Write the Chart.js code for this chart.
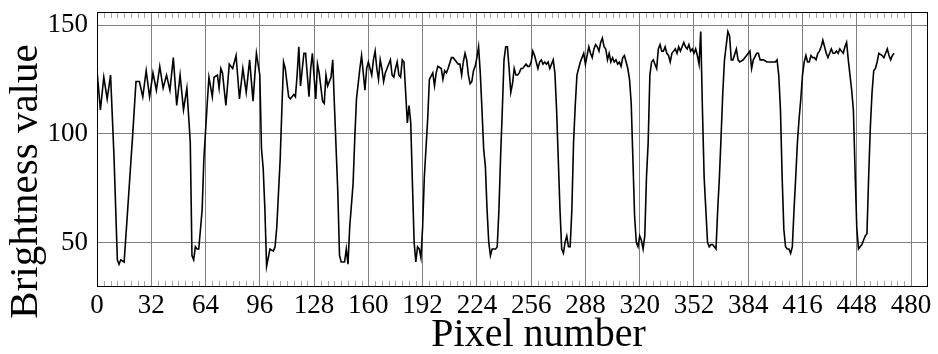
<!DOCTYPE html>
<html>
<head>
<meta charset="utf-8">
<script src="https://cdn.jsdelivr.net/npm/chart.js@4"></script>
<style>
html,body{margin:0;padding:0;background:#fff;}
canvas{display:block;}
</style>
</head>
<body>
<canvas id="c" width="938" height="354"></canvas>
<script>
const pixelNumbers = [0,2,4,6,8,10,12,13,14,16,18,21,23,25,27,29,31,33,35,37,39,41,43,45,47,49,51,53,55,56,57,58,59,60,62,63,65,66,68,69,71,72,73,74,76,78,80,82,84,86,88,90,92,94,96,97,98,99,100,102,104,105,106,108,109,110,111,113,114,116,117,118,119,120,122,123,125,126,127,129,130,131,133,134,135,136,138,139,140,142,143,144,146,147,148,149,151,152,153,155,156,157,158,159,160,161,162,163,164,165,166,167,168,169,170,171,172,173,174,175,176,177,178,179,180,181,182,183,184,185,186,187,188,189,190,191,192,193,195,196,198,199,200,201,203,204,205,206,207,209,210,212,213,214,215,216,217,218,219,220,221,222,223,224,225,226,227,228,229,230,231,232,233,234,235,236,237,238,239,240,241,242,243,244,245,246,247,248,249,250,251,252,253,254,255,256,257,258,259,260,261,262,263,264,265,266,267,268,269,270,271,272,273,274,275,276,277,278,279,280,281,282,283,284,285,286,287,288,289,290,291,292,293,294,295,296,297,298,299,300,301,302,303,304,305,306,307,308,309,310,311,312,313,314,315,316,317,318,319,320,321,322,323,324,325,326,327,328,329,330,331,332,333,334,335,336,337,338,339,340,341,342,343,344,345,346,347,348,349,350,351,352,353,354,355,356,357,358,359,360,361,362,363,364,365,366,367,368,369,370,372,373,374,375,377,378,379,381,382,384,385,386,387,389,390,391,393,395,396,398,400,401,402,403,404,405,406,407,408,409,410,411,412,413,414,415,416,417,418,419,420,421,422,423,424,425,426,427,428,429,430,431,432,433,434,435,436,437,438,439,440,441,442,443,444,445,446,447,448,449,451,452,453,454,455,456,457,458,459,460,461,463,464,465,466,467,468,469,470];
const brightness = [129,111,126,116,127,90,42,40,42,41,64,99,124,124,117,129,117,128,120,131,121,127,120,135,113,127,111,121,96,44,42,48,47,47,65,88,114,126,117,126,127,121,130,128,113,132,130,136,116,130,119,134,115,137,127,93,84,65,39,47,46,48,57,88,111,133,130,117,116,118,117,127,140,122,137,137,117,130,137,116,132,128,115,114,127,122,126,134,113,73,44,41,41,47,40,57,77,98,116,130,136,128,120,130,133,130,127,134,138,130,125,134,130,124,128,130,132,134,127,126,130,133,127,126,134,133,119,105,113,105,77,50,41,48,47,43,57,80,107,125,128,122,128,131,130,125,129,128,130,135,135,133,132,132,127,133,137,134,127,123,124,129,131,135,140,128,111,93,85,65,50,44,47,47,47,48,65,90,111,134,140,140,130,119,123,130,127,127,128,130,130,131,132,131,131,133,138,136,133,130,133,134,132,133,132,133,130,132,134,128,111,88,65,47,45,50,53,48,48,65,96,113,127,130,133,135,137,132,136,140,137,135,139,141,140,138,142,144,140,139,134,137,133,135,133,134,132,133,131,135,136,133,130,125,114,88,62,50,48,53,51,47,53,80,96,127,133,134,132,130,139,141,138,138,140,137,136,133,137,138,139,137,140,138,140,142,140,139,141,138,139,137,139,136,132,147,111,80,65,50,48,49,49,48,47,65,80,99,119,134,147,145,134,134,139,134,133,134,135,137,138,130,134,137,137,134,134,133,133,133,133,134,127,111,80,56,48,47,47,45,48,65,80,96,107,116,127,133,136,133,133,136,135,135,134,137,138,140,143,140,137,135,137,139,137,137,138,137,139,138,137,140,142,134,127,120,111,83,57,47,49,51,53,54,80,103,119,129,130,133,137,136,135,137,139,136,134,136,137];
const xTickValues = [0,32,64,96,128,160,192,224,256,288,320,352,384,416,448,480];
const yTickValues = [50,100,150];
const xMinorTickValues = [];
for (let v = 4; v < 480; v += 4) { if (v % 32 !== 0) xMinorTickValues.push(v); }
const xTitle = 'Pixel number';
const yTitle = 'Brightness value';

const FONT = "'Liberation Serif', 'Times New Roman', serif";

const framePlugin = {
  id: 'frame',
  beforeDatasetsDraw(chart) {
    const {ctx, chartArea: {left, right, top, bottom}, scales: {x}} = chart;
    ctx.save();
    ctx.strokeStyle = '#a6a6a6';
    ctx.lineWidth = 1;
    ctx.beginPath();
    xMinorTickValues.forEach(v => {
      const px = Math.round(x.getPixelForValue(v)) + 0.5;
      ctx.moveTo(px, top); ctx.lineTo(px, top + 6);
      ctx.moveTo(px, bottom); ctx.lineTo(px, bottom - 6);
    });
    ctx.stroke();
    ctx.strokeStyle = '#000';
    ctx.lineWidth = 1;
    ctx.strokeRect(Math.round(left) + 0.5, Math.round(top) + 0.5, Math.round(right - left) - 1, Math.round(bottom - top) - 1);
    ctx.restore();
  },
  afterDraw(chart) {
    const {ctx, chartArea: {left, right, top, bottom}} = chart;
    ctx.save();
    ctx.fillStyle = '#000';
    ctx.textAlign = 'center';
    ctx.textBaseline = 'alphabetic';
    ctx.font = `40px ${FONT}`;
    ctx.fillText(xTitle, (left + right) / 2 + 26, bottom + 59);
    ctx.translate(left - 60, (top + bottom) / 2 + 32);
    ctx.rotate(-Math.PI / 2);
    ctx.font = `41px ${FONT}`;
    ctx.fillText(yTitle, 0, 0);
    ctx.restore();
  }
};

new Chart(document.getElementById('c'), {
  type: 'line',
  data: {
    datasets: [{
      data: pixelNumbers.map((p, i) => ({x: p, y: brightness[i]})),
      borderColor: '#000',
      borderWidth: 1.6,
      pointRadius: 0,
      tension: 0,
      fill: false
    }]
  },
  options: {
    responsive: false,
    devicePixelRatio: 1,
    animation: false,
    events: [],
    layout: {padding: {top: 12, right: 10, left: 0, bottom: 0}},
    plugins: {legend: {display: false}, tooltip: {enabled: false}},
    scales: {
      x: {
        type: 'linear',
        min: 0, max: 490,
        afterBuildTicks: s => { s.ticks = xTickValues.map(v => ({value: v})); },
        afterFit: s => { s.height = 67; s.paddingLeft = 0; s.paddingRight = 0; },
        grid: {color: '#808080', lineWidth: 1, drawTicks: false},
        border: {display: false},
        ticks: {color: '#000', font: {family: FONT, size: 27}, padding: 3, maxRotation: 0, autoSkip: false}
      },
      y: {
        type: 'linear',
        min: 29.5, max: 156,
        afterBuildTicks: s => { s.ticks = yTickValues.map(v => ({value: v})); },
        afterFit: s => { s.width = 97; s.paddingTop = 0; s.paddingBottom = 0; },
        grid: {color: '#808080', lineWidth: 1, drawTicks: false},
        border: {display: false},
        ticks: {color: '#000', font: {family: FONT, size: 27}, padding: 9}
      }
    }
  },
  plugins: [framePlugin]
});
</script>
</body>
</html>
